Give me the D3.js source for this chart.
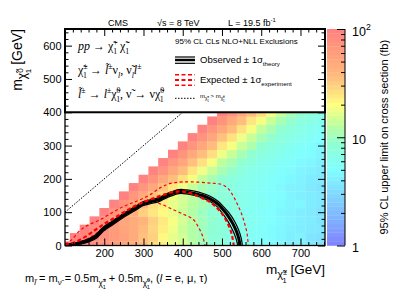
<!DOCTYPE html>
<html>
<head>
<meta charset="utf-8">
<script src="https://cdn.jsdelivr.net/npm/d3@7"></script>
<style>
  body { margin: 0; background: #fff; }
  text { font-family: "Liberation Sans", Arial, sans-serif; }
</style>
</head>
<body>
<svg id="chart"></svg>
<script>

// ---- data ----
// x bin centres (chargino mass, GeV) and y bin centres (neutralino mass, GeV)
const xBins = [100, 125, 150, 175, 200, 225, 250, 275, 300, 325, 350, 375, 400, 425,
               450, 475, 500, 525, 550, 575, 600, 625, 650, 675, 700, 725, 750];
const yBins = [0, 25, 50, 75, 100, 125, 150, 175, 200, 225, 250, 275, 300, 325, 350, 375, 400];

// upper limit (fb); row r starts at column r (cells above the diagonal are empty)
const limitRows = [
  [95, 88, 85, 80, 76, 66, 52, 44, 38, 27, 23, 18, 15, 13, 10, 8.8, 7.4, 6.9, 6.0, 5.8, 5.0, 4.6, 4.7, 4.0, 4.2, 3.7, 3.5],
  [95, 86, 81, 74, 64, 56, 46, 35, 30, 21, 17, 15, 12, 10.5, 8.2, 7.6, 6.6, 6.3, 5.5, 5.3, 4.9, 4.5, 4.1, 4.3, 3.6, 3.4],
  [95, 82, 74, 63, 54, 47, 37, 29, 23, 18, 14, 12, 10, 8.6, 7.7, 7.0, 6.4, 5.7, 5.4, 4.8, 4.6, 4.2, 4.0, 3.8, 3.7],
  [95, 78, 66, 52, 46, 40, 30, 24, 19, 15, 12.5, 10.5, 9, 7.8, 7.2, 6.5, 5.9, 5.5, 5.0, 4.7, 4.4, 4.1, 3.9, 3.6],
  [95, 74, 56, 42, 30, 25, 21, 17, 14, 12, 10, 8.5, 7.6, 7.1, 6.3, 5.8, 5.3, 5.0, 4.5, 4.3, 4.0, 3.8, 3.5],
  [95, 73, 51, 38, 27, 23, 17, 15, 12.5, 11, 9.5, 8.2, 7.3, 6.6, 6.0, 5.6, 5.2, 4.8, 4.4, 4.5, 3.9, 3.7],
  [96, 70, 49, 35, 27, 19, 15, 13, 10, 9, 8, 7.2, 6.5, 6.1, 5.5, 5.1, 4.9, 4.4, 4.1, 3.9, 3.7],
  [94, 71, 50, 34, 25, 18, 14, 11, 9.5, 8, 7, 6.4, 5.9, 5.4, 5.2, 4.7, 4.3, 4.2, 3.8, 3.6],
  [95, 72, 48, 36, 26, 19, 13.5, 11, 9, 7.6, 6.8, 6.3, 5.8, 5.4, 4.9, 4.6, 4.3, 3.9, 3.8],
  [93, 73, 50, 37, 25, 18, 14, 11, 9.2, 7.5, 6.5, 6.0, 5.6, 5.1, 4.8, 4.4, 4.2, 3.9],
  [95, 70, 52, 35, 26, 19, 13, 11, 9, 7.8, 6.6, 6.1, 5.5, 5.2, 4.7, 4.5, 4.1],
  [96, 72, 49, 36, 27, 18, 14, 11, 8.8, 7.5, 6.8, 6.2, 5.6, 5.0, 4.9, 4.4],
  [94, 71, 50, 37, 25, 19, 14, 11.5, 9, 7.7, 6.7, 6.1, 5.4, 5.1, 4.6],
  [95, 73, 51, 35, 26, 18, 14, 11, 9.2, 7.6, 6.9, 6.2, 5.5, 5.0],
  [95, 70, 50, 37, 26, 19, 13.5, 11, 9, 7.8, 6.8, 6.0, 5.6],
  [96, 72, 49, 36, 25, 19, 14, 11, 9.2, 7.6, 7.0, 6.2],
  [95, 73, 50, 36, 27, 19, 14, 11, 9, 7.8, 7.0]
];

// exclusion contours [m_chargino, m_neutralino]
const observed = [[100, 1], [120, 4], [140, 8], [160, 15], [180, 28], [195, 47], [220, 67], [245, 87],
  [280, 112], [300, 126], [320, 132], [338, 137], [364, 152], [390, 162], [410, 161], [430, 156],
  [450, 150], [470, 140], [490, 124], [505, 105], [515, 90], [528, 65], [537, 42], [543, 20], [546, 0]];
const observedUp = [[100, 3], [120, 7], [140, 12], [160, 20], [180, 34], [195, 53], [220, 73], [245, 93],
  [280, 118], [300, 132], [320, 138], [338, 143], [364, 158], [390, 168], [410, 167], [430, 163],
  [450, 157], [470, 148], [490, 133], [505, 115], [518, 98], [532, 73], [542, 48], [549, 22], [552, 0]];
const observedDown = [[100, 0], [120, 2], [140, 5], [160, 11], [180, 22], [195, 40], [220, 61], [245, 81],
  [280, 106], [300, 120], [320, 126], [338, 131], [364, 146], [390, 156], [410, 155], [430, 150],
  [450, 143], [470, 132], [488, 116], [500, 98], [510, 82], [522, 58], [531, 36], [537, 16], [540, 0]];
const expected = [[100, 3], [125, 10], [150, 25], [175, 45], [200, 65], [225, 82], [250, 100], [275, 117],
  [300, 130], [325, 142], [350, 152], [375, 160], [400, 162], [425, 155], [450, 142], [470, 130],
  [488, 112], [502, 92], [513, 70], [522, 45], [527, 22], [530, 0]];
const expectedUp = [[100, 5], [115, 15], [138, 45], [160, 62], [189, 77], [215, 95], [240, 112], [265, 125],
  [291, 137], [320, 155], [342, 173], [360, 183], [376, 188], [400, 191], [440, 190], [475, 187],
  [500, 183], [515, 172], [528, 150], [540, 122], [550, 95], [558, 65], [564, 35], [567, 0]];
const expectedDown = [[100, 1], [125, 6], [150, 16], [175, 33], [200, 55], [225, 75], [250, 93], [275, 110],
  [300, 122], [325, 130], [345, 124], [375, 108], [400, 95], [427, 78], [440, 55], [450, 30], [457, 0]];
const diagonal = [[100, 100], [650, 650]];

const xTicks = [200, 300, 400, 500, 600, 700];
const yTicks = [0, 100, 200, 300, 400, 500, 600];
const zTicks = [1, 10, 100];
const zLabels = [["1"], ["10"], ["10", "2"]];

// palette (log10 of limit -> colour)
const paletteStops = [0, 0.25, 0.5, 0.7, 0.95, 1.1, 1.3, 1.45, 1.6, 1.8, 2.0];
const paletteColors = ["#8080ff", "#80b4ff", "#80dcff", "#80ffff", "#90ffd0", "#b8ffa0",
                       "#ffff80", "#ffd880", "#ffb47c", "#ff9c7c", "#ff8080"];

// ---- layout ----
const W = 407, H = 294;
const frame = {l: 65, r: 325, t: 29, b: 245.5};
const bar = {l: 327, r: 345};
const cell = 25;

const svg = d3.select("#chart").attr("width", W).attr("height", H);

const xs = d3.scaleLinear().domain([100, 762.5]).range([frame.l, frame.r]);
const ys = d3.scaleLinear().domain([0, 650]).range([frame.b, frame.t]);
const zs = d3.scaleLog().domain([1, 100]).range([frame.b, frame.t]);
const pal = d3.scaleLinear().domain(paletteStops).range(paletteColors).clamp(true);
const color = v => pal(Math.log10(v));

svg.append("clipPath").attr("id", "plotClip")
    .append("rect")
    .attr("x", frame.l).attr("y", frame.t)
    .attr("width", frame.r - frame.l).attr("height", frame.b - frame.t);

const plot = svg.append("g").attr("clip-path", "url(#plotClip)");

// heat map cells
limitRows.forEach((row, r) => {
    row.forEach((v, k) => {
        let xc = xBins[r + k], yc = yBins[r];
        let x0 = xs(Math.max(100, xc - cell / 2)), x1 = xs(xc + cell / 2);
        let y0 = ys(yc + cell / 2), y1 = ys(Math.max(0, yc - cell / 2));
        plot.append("rect")
            .attr("x", x0).attr("y", y0)
            .attr("width", x1 - x0 + 0.3).attr("height", y1 - y0 + 0.3)
            .attr("fill", color(v));
    });
});

// contours
const line = d3.line().x(d => xs(d[0])).y(d => ys(d[1])).curve(d3.curveCatmullRom.alpha(0.5));

function contour(data, stroke, width, dash) {
    plot.append("path")
        .attr("d", line(data))
        .attr("fill", "none")
        .attr("stroke", stroke)
        .attr("stroke-width", width)
        .attr("stroke-dasharray", dash)
        .attr("stroke-linejoin", "round");
}

contour(expectedUp, "#ff0000", 1.2, "3,2.5");
contour(expectedDown, "#ff0000", 1.2, "3,2.5");
contour(observedUp, "#000", 1.2, null);
contour(observedDown, "#000", 1.2, null);
contour(observed, "#000", 3, null);
contour(expected, "#ff0000", 2.2, "4,2.5");

plot.append("path")
    .attr("d", d3.line().x(d => xs(d[0])).y(d => ys(d[1]))(diagonal))
    .attr("stroke", "#000").attr("stroke-width", 1)
    .attr("stroke-dasharray", "1.5,1.5").attr("fill", "none");

// legend box
svg.append("rect")
    .attr("x", frame.l).attr("y", frame.t)
    .attr("width", frame.r - frame.l).attr("height", ys(400) - frame.t)
    .attr("fill", "#fff").attr("stroke", "#000").attr("stroke-width", 2);

// rich text helper: parts = {t, lv (em), sz, it, dx (em)}
function rich(g, x, y, fs, parts, family) {
    let t = g.append("text").attr("x", x).attr("y", y).attr("font-size", fs);
    if (family) t.style("font-family", family);
    let off = 0;
    parts.forEach(p => {
        let lv = (p.lv || 0) * fs;
        let s = t.append("tspan").attr("dy", lv - off).text(p.t)
            .attr("font-size", fs * (p.sz || 1));
        if (p.it) s.attr("font-style", "italic");
        if (p.dx) s.attr("dx", p.dx * fs);
        off = lv;
    });
    return t;
}
const N = (t, it) => ({t: t, it: it});
const UP = (t, it) => ({t: t, lv: -0.4, sz: 0.65, it: it});
const DN = (t, it, dx) => ({t: t, lv: 0.3, sz: 0.65, it: it, dx: dx});
// nested subscript like chi~^{+-}_{1}
const subChi = (sup, k) => {
    k = k || 1;
    return [{t: "χ̃", lv: 0.32, sz: 0.75 * k}, {t: sup, lv: 0.04, sz: 0.5 * k},
            {t: "1", lv: 0.66, sz: 0.5 * k, dx: -0.3 * k}];
};

// legend: process
const serif = '"Liberation Serif", "Times New Roman", serif';
rich(svg, 78, 50, 12, [N("pp", true), N(" → "), N("χ̃"), UP("+"), DN("1", false, -0.38), N(" "),
    N("χ̃"), UP("−"), DN("1", false, -0.38)], serif);
rich(svg, 78, 74, 12, [N("χ̃"), UP("±"), DN("1", false, -0.38), N(" → "), N("l̃", true), UP("±"),
    N("ν"), DN("l", true), N(", "), N("ν̃"), DN("l", true), N("l", true), UP("±")], serif);
rich(svg, 78, 98, 12, [N("l̃", true), UP("±"), N(" → "), N("l", true), UP("±"), N("χ̃"), UP("0"),
    DN("1", false, -0.36), N(", "), N("ν̃"), N(" → "), N("ν"), N("χ̃"), UP("0"), DN("1", false, -0.36)], serif);

// legend: exclusions
svg.append("text").attr("x", 175).attr("y", 44).attr("font-size", 8)
    .text("95% CL CLs NLO+NLL Exclusions");

[[57, 1.2], [60, 2.5], [63.3, 1.2]].forEach(d => {
    svg.append("line").attr("x1", 175).attr("x2", 195).attr("y1", d[0]).attr("y2", d[0])
        .attr("stroke", "#000").attr("stroke-width", d[1]);
});
[[74.7, 1.5], [80, 2], [85.3, 1.5]].forEach(d => {
    svg.append("line").attr("x1", 175).attr("x2", 195).attr("y1", d[0]).attr("y2", d[0])
        .attr("stroke", "#ff0000").attr("stroke-width", d[1]).attr("stroke-dasharray", "4,2.5");
});
svg.append("line").attr("x1", 175).attr("x2", 195).attr("y1", 98.3).attr("y2", 98.3)
    .attr("stroke", "#000").attr("stroke-width", 1).attr("stroke-dasharray", "1.5,1.5");

rich(svg, 200, 63, 9.5, [N("Observed ± 1σ"), DN("theory")]);
rich(svg, 200, 83, 9.5, [N("Expected ± 1σ"), DN("experiment")]);
rich(svg, 200, 98, 6, [N("m"), ...subChi("±"), {t: " > m", lv: 0}, ...subChi("0")]);

// frame
svg.append("rect")
    .attr("x", frame.l).attr("y", frame.t)
    .attr("width", frame.r - frame.l).attr("height", frame.b - frame.t)
    .attr("fill", "none").attr("stroke", "#000").attr("stroke-width", 1.3);

// axes (ROOT style: ticks inside, mirrored)
const minorX = d3.range(100, 762, 20).filter(v => v % 100 !== 0);
const minorY = d3.range(0, 650, 20).filter(v => v % 100 !== 0);

function styleAxis(g) {
    g.select(".domain").remove();
    g.selectAll("line").attr("stroke", "#000");
    g.selectAll("text").attr("font-size", 11).attr("fill", "#000")
        .style("font-family", '"Liberation Sans", Arial, sans-serif');
}

svg.append("g").attr("transform", `translate(0,${frame.b})`)
    .call(d3.axisBottom(xs).tickValues(xTicks).tickSize(-7).tickPadding(4).tickFormat(d3.format("d")))
    .call(styleAxis);
svg.append("g").attr("transform", `translate(0,${frame.b})`)
    .call(d3.axisBottom(xs).tickValues(minorX).tickSize(-3.5).tickFormat(""))
    .call(styleAxis);
svg.append("g").attr("transform", `translate(0,${frame.t})`)
    .call(d3.axisTop(xs).tickValues(xTicks).tickSize(-7).tickFormat(""))
    .call(styleAxis);
svg.append("g").attr("transform", `translate(0,${frame.t})`)
    .call(d3.axisTop(xs).tickValues(minorX).tickSize(-3.5).tickFormat(""))
    .call(styleAxis);

svg.append("g").attr("transform", `translate(${frame.l},0)`)
    .call(d3.axisLeft(ys).tickValues(yTicks).tickSize(-7).tickPadding(3.5).tickFormat(d3.format("d")))
    .call(styleAxis);
svg.append("g").attr("transform", `translate(${frame.l},0)`)
    .call(d3.axisLeft(ys).tickValues(minorY).tickSize(-3.5).tickFormat(""))
    .call(styleAxis);
svg.append("g").attr("transform", `translate(${frame.r},0)`)
    .call(d3.axisRight(ys).tickValues(yTicks).tickSize(-7).tickFormat(""))
    .call(styleAxis);
svg.append("g").attr("transform", `translate(${frame.r},0)`)
    .call(d3.axisRight(ys).tickValues(minorY).tickSize(-3.5).tickFormat(""))
    .call(styleAxis);

// colour bar
const bands = 50;
for (let i = 0; i < bands; i++) {
    let t0 = 2 * i / bands, t1 = 2 * (i + 1) / bands;
    svg.append("rect")
        .attr("x", bar.l).attr("y", zs(Math.pow(10, t1)))
        .attr("width", bar.r - bar.l).attr("height", zs(Math.pow(10, t0)) - zs(Math.pow(10, t1)) + 0.3)
        .attr("fill", pal((t0 + t1) / 2));
}
const minorZ = [2, 3, 4, 5, 6, 7, 8, 9, 20, 30, 40, 50, 60, 70, 80, 90];
svg.append("g").attr("transform", `translate(${bar.r},0)`)
    .call(d3.axisRight(zs).tickValues(zTicks).tickSize(-8).tickFormat(""))
    .call(styleAxis);
svg.append("g").attr("transform", `translate(${bar.r},0)`)
    .call(d3.axisRight(zs).tickValues(minorZ).tickSize(-4).tickFormat(""))
    .call(styleAxis);
svg.append("line").attr("x1", bar.r).attr("x2", bar.r).attr("y1", frame.t).attr("y2", frame.b)
    .attr("stroke", "#000").attr("stroke-width", 1);

zTicks.forEach((v, i) => {
    let lab = zLabels[i];
    let parts = [N(lab[0])];
    if (lab[1]) parts.push({t: lab[1], lv: -0.45, sz: 0.7});
    rich(svg, 352, zs(v) + 6.5, 12.5, parts);
});

svg.append("text")
    .attr("transform", `translate(388,${(frame.t + frame.b) / 2}) rotate(-90)`)
    .attr("text-anchor", "middle").attr("font-size", 11)
    .text("95% CL upper limit on cross section (fb)");

// axis titles
rich(svg, frame.r, 274, 13.5, [N("m"), ...subChi("±", 1.1), {t: "  [GeV]", lv: 0, sz: 1}])
    .attr("text-anchor", "end");
rich(svg.append("g").attr("transform", `translate(22,${frame.t}) rotate(-90)`), 0, 0, 14,
    [N("m"), ...subChi("0", 1.15), {t: "   [GeV]", lv: 0, sz: 1}])
    .attr("text-anchor", "end");

// header
svg.append("text").attr("x", 108).attr("y", 26).attr("font-size", 9).text("CMS");
svg.append("text").attr("x", 157).attr("y", 26).attr("font-size", 9).text("√s = 8 TeV");
rich(svg, 228, 26, 9, [N("L = 19.5 fb"), UP("-1")]);

// mass relation
rich(svg, 25, 282, 11, [N("m"), {t: "l̃", lv: 0.3, sz: 0.72, it: true}, {t: " = m", lv: 0},
    {t: "ν̃", lv: 0.3, sz: 0.72}, {t: " = 0.5m", lv: 0}, ...subChi("±"),
    {t: " + 0.5m", lv: 0}, ...subChi("0"), {t: ",  (", lv: 0}, N("l", true), N(" = e, μ, τ)")]);

</script>
</body>
</html>
